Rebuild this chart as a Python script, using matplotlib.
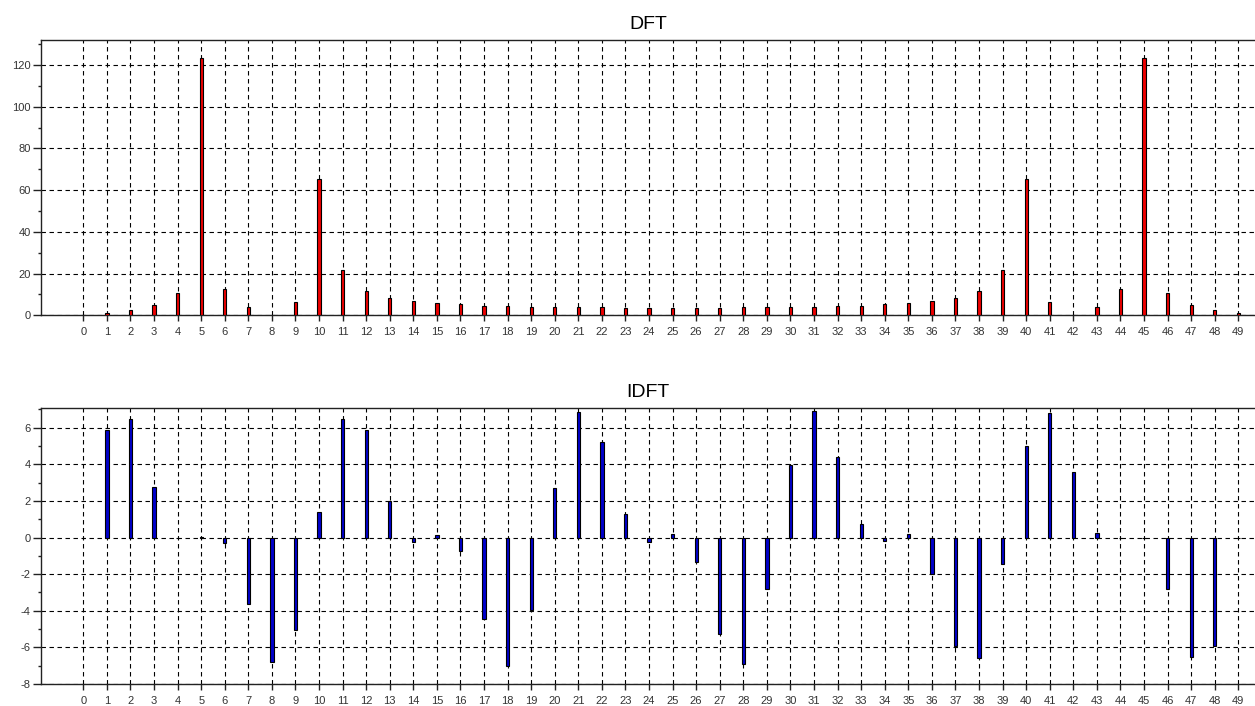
import matplotlib
matplotlib.use("Agg")
import matplotlib.pyplot as plt
import numpy as np
from matplotlib.ticker import MultipleLocator, FixedLocator

plt.rcParams['font.family'] = ['Liberation Sans', 'DejaVu Sans']
plt.rcParams['axes.unicode_minus'] = False

n_index = list(range(50))

dft_mag = [0.0, 1.0, 2.4, 5.0, 10.9, 123.5, 12.8, 4.0, 0.0, 6.4,
           65.3, 21.8, 11.6, 8.5, 6.7, 5.8, 5.3, 4.6, 4.5, 4.2,
           4.2, 4.0, 3.8, 3.7, 3.5, 3.5, 3.5, 3.7, 3.8, 4.0,
           4.2, 4.2, 4.5, 4.6, 5.3, 5.8, 6.7, 8.5, 11.6, 21.8,
           65.3, 6.4, 0.0, 4.0, 12.8, 123.5, 10.9, 5.0, 2.4, 1.0]

idft_vals = [0.0, 5.88, 6.46, 2.77, 0.0, 0.05, -0.29, -3.61, -6.82, -5.07,
             1.39, 6.48, 5.88, 1.99, -0.22, 0.15, -0.75, -4.47, -7.0, -3.98,
             2.72, 6.84, 5.22, 1.28, -0.24, 0.22, -1.33, -5.26, -6.9, -2.79,
             3.96, 6.93, 4.38, 0.73, -0.2, 0.18, -2.0, -5.95, -6.57, -1.42,
             5.0, 6.79, 3.58, 0.27, -0.05, 0.0, -2.79, -6.5, -5.91, 0.0]

xtick_labels = [str(i) for i in n_index]

W, H = 1255, 706
fig = plt.figure(figsize=(W / 100, H / 100), dpi=100)

px_per_unit = 23.57
x0_px = 83.3
left_px = 41
xmin = -(x0_px - left_px) / px_per_unit
xmax = 49 + (W - 1238.3) / px_per_unit

ax1 = fig.add_axes([left_px / W, 1 - 315.3 / H, 1 - left_px / W, (315.3 - 40) / H])
ax2 = fig.add_axes([left_px / W, 1 - 684 / H, 1 - left_px / W, (684 - 408.3) / H])

grid_kw = dict(color='black', linewidth=0.8, linestyle=(0, (4.0, 3.2)))


def style(ax, ylo, yhi, major, title):
    ax.set_xlim(xmin, xmax)
    ax.set_ylim(ylo, yhi)
    ax.spines['right'].set_visible(False)
    for s in ['left', 'top', 'bottom']:
        ax.spines[s].set_linewidth(1.0)
        ax.spines[s].set_color('#222222')
    ax.xaxis.set_major_locator(FixedLocator(n_index))
    ax.set_xticklabels(xtick_labels)
    ax.yaxis.set_major_locator(MultipleLocator(major))
    ax.yaxis.set_minor_locator(MultipleLocator(major / 2))
    ax.tick_params(axis='x', direction='out', length=4.5, width=1.0,
                   labelsize=8, labelcolor='#333333', pad=4, color='#222222')
    ax.tick_params(axis='y', which='major', direction='out', length=5.5, width=1.0,
                   labelsize=8, labelcolor='#333333', pad=2, color='#222222')
    ax.tick_params(axis='y', which='minor', direction='out', length=2.5, width=1.0,
                   color='#222222')
    ax.grid(True, which='major', **grid_kw)
    ax.set_axisbelow(True)
    ax.set_title(title, fontsize=14, pad=8)


style(ax1, 0, 132, 20, 'DFT')
ax1.bar(n_index, dft_mag, width=0.14, color='#ee0000', edgecolor='black',
        linewidth=0.8, zorder=3)

style(ax2, -8, 7.06, 2, 'IDFT')
ax2.bar(n_index, idft_vals, width=0.14, color='#0000cc', edgecolor='black',
        linewidth=0.8, zorder=3)

fig.savefig('out.png', dpi=100)
